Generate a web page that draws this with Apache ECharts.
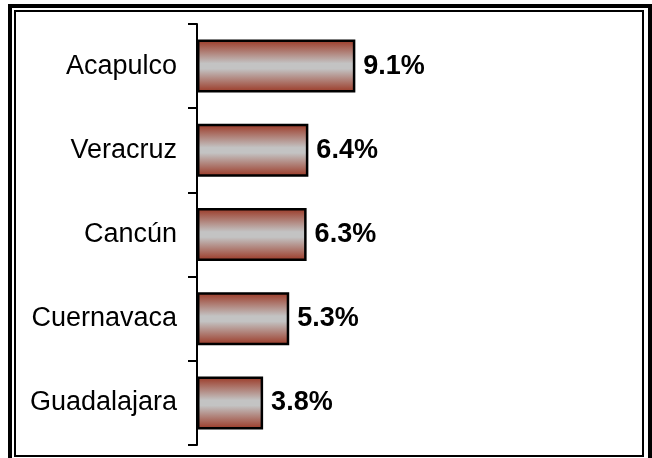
<!DOCTYPE html>
<html>
<head>
<meta charset="utf-8">
<script src="https://cdn.jsdelivr.net/npm/echarts@6/dist/echarts.min.js"></script>
<style>
html,body{margin:0;padding:0;background:#fff;}
#c{width:652px;height:458px;}
</style>
</head>
<body>
<div id="c"></div>
<script>
const categories = ['Acapulco', 'Veracruz', 'Cancún', 'Cuernavaca', 'Guadalajara'];
const values = [9.1, 6.4, 6.3, 5.3, 3.8];

const chart = echarts.init(document.getElementById('c'), null, {renderer: 'canvas'});
const font = '"Liberation Sans", Arial, sans-serif';
const grad = new echarts.graphic.LinearGradient(0, 0, 0, 1, [
  {offset: 0, color: '#9a3623'},
  {offset: 0.45, color: '#c3c3c3'},
  {offset: 0.55, color: '#c3c3c3'},
  {offset: 1, color: '#9a3623'}
]);
chart.setOption({
  backgroundColor: '#ffffff',
  animation: false,
  graphic: [
    {type: 'rect', shape: {x: 10, y: 6, width: 640, height: 460}, style: {fill: 'none', stroke: '#000', lineWidth: 4}, silent: true},
    {type: 'rect', shape: {x: 15, y: 11, width: 628, height: 445}, style: {fill: 'none', stroke: '#000', lineWidth: 2}, silent: true}
  ],
  grid: {left: 197, top: 24, width: 174, height: 421, containLabel: false},
  xAxis: {type: 'value', min: 0, max: 10, show: false},
  yAxis: {
    type: 'category',
    data: categories,
    inverse: true,
    axisLine: {show: true, lineStyle: {color: '#000', width: 2}},
    axisTick: {show: true, length: 9, lineStyle: {color: '#000', width: 2}},
    axisLabel: {color: '#000', fontFamily: font, fontSize: 27, margin: 20},
    splitLine: {show: false}
  },
  series: [{
    type: 'bar',
    data: values,
    barCategoryGap: '37%',
    itemStyle: {color: grad, borderColor: '#000', borderWidth: 2.5},
    label: {
      show: true,
      position: 'right',
      distance: 8,
      color: '#000',
      fontFamily: font,
      fontSize: 27,
      fontWeight: 'bold',
      formatter: p => p.value.toFixed(1) + '%'
    }
  }]
});
</script>
</body>
</html>
